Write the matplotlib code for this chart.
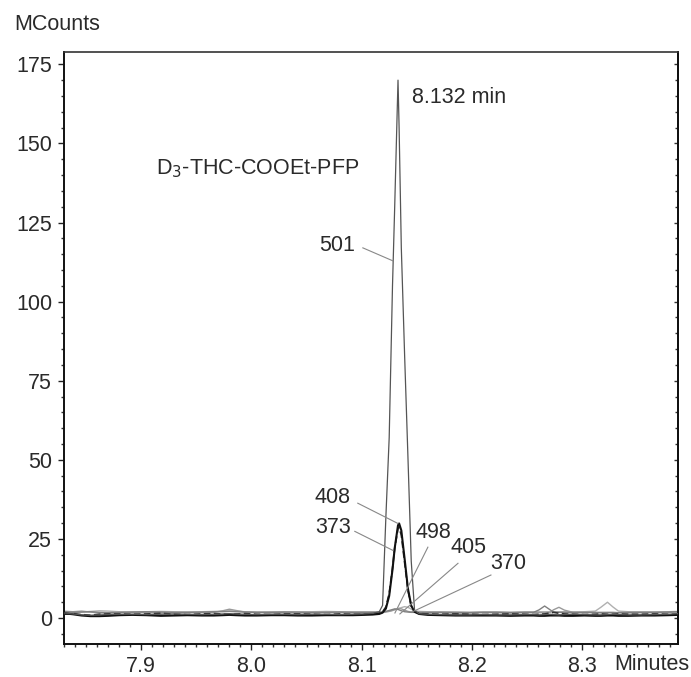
import matplotlib
matplotlib.use("Agg")
import matplotlib.pyplot as plt
from matplotlib.ticker import MultipleLocator, NullFormatter

plt.rcParams['font.family'] = ['Liberation Sans', 'DejaVu Sans']

# retention time grid (minutes)
times = [7.830, 7.838, 7.846, 7.854, 7.862, 7.870, 7.880, 7.892, 7.905, 7.918,
         7.930, 7.942, 7.955, 7.966, 7.974, 7.980, 7.986, 7.994, 8.005, 8.018,
         8.030, 8.042, 8.055, 8.068, 8.080, 8.092, 8.102,
         8.110, 8.116, 8.119, 8.122, 8.125, 8.128, 8.130, 8.133, 8.134, 8.136,
         8.139, 8.142, 8.145, 8.148, 8.152,
         8.160, 8.172, 8.185, 8.198, 8.210, 8.222, 8.235, 8.248, 8.256, 8.261,
         8.266, 8.271, 8.274, 8.279, 8.284, 8.292, 8.302, 8.312, 8.317, 8.323,
         8.328, 8.333, 8.342, 8.354, 8.366, 8.378, 8.387]

# ion traces (MCounts)
ion_501 = [1.6, 1.3, 1.0, 0.9, 1.0, 1.1, 1.2, 1.2, 1.1, 1.2, 1.3, 1.2, 1.1, 1.2, 1.3, 1.4, 1.3, 1.2, 1.1, 1.2, 1.2, 1.1, 1.2, 1.2, 1.1, 1.2, 1.3,
           1.5, 2.0, 4.0, 32.0, 57.0, 105.0, 130.0, 170.0, 155.0, 117.0, 83.0, 51.0, 18.0, 2.5, 1.4,
           1.2, 1.1, 1.0, 1.0, 1.1, 1.0, 1.0, 1.1, 1.1, 1.0, 1.1, 1.2, 1.1, 1.0, 1.1, 1.2, 1.1, 1.0, 1.0, 1.1, 1.2, 1.1, 1.0, 1.0, 1.1, 1.2, 1.4]
ion_408 = [1.5, 1.2, 0.8, 0.6, 0.6, 0.7, 0.9, 1.0, 0.9, 0.7, 0.8, 0.9, 0.8, 0.8, 0.9, 1.0, 0.9, 0.8, 0.8, 0.9, 0.9, 0.8, 0.8, 0.9, 0.9, 0.9, 1.0,
           1.1, 1.3, 1.7, 3.0, 7.0, 15.3, 22.1, 29.3, 29.9, 27.7, 18.7, 9.3, 3.9, 2.0, 1.3,
           1.0, 0.9, 0.8, 0.8, 0.8, 0.8, 0.7, 0.8, 0.8, 0.7, 0.7, 0.8, 0.8, 0.8, 0.7, 0.7, 0.8, 0.7, 0.7, 0.8, 0.8, 0.7, 0.7, 0.8, 0.8, 0.9, 1.0]
ion_373 = [1.2, 1.4, 1.1, 0.9, 1.2, 1.3, 1.3, 1.2, 1.3, 1.5, 1.2, 1.1, 1.3, 1.4, 1.3, 1.2, 1.3, 1.4, 1.2, 1.1, 1.3, 1.3, 1.2, 1.1, 1.3, 1.2, 1.2,
           1.3, 1.5, 2.0, 3.5, 7.8, 15.8, 22.0, 28.3, 28.6, 26.2, 17.5, 8.8, 3.8, 2.0, 1.4,
           1.3, 1.2, 1.3, 1.2, 1.1, 1.2, 1.3, 1.2, 1.1, 1.2, 1.3, 1.6, 1.8, 1.5, 1.3, 1.2, 1.1, 1.2, 1.3, 1.2, 1.2, 1.3, 1.2, 1.2, 1.3, 1.2, 1.2]
ion_498 = [2.0, 1.8, 1.9, 2.0, 1.8, 1.7, 1.8, 1.9, 2.0, 1.9, 1.8, 1.8, 1.9, 2.0, 2.0, 2.1, 2.0, 1.9, 1.8, 1.8, 1.9, 1.9, 1.8, 1.8, 1.9, 1.8, 1.8,
           1.8, 1.8, 1.9, 2.1, 2.4, 2.7, 2.9, 2.7, 2.6, 2.3, 2.0, 1.9, 1.8, 1.8, 1.8,
           1.8, 1.8, 1.7, 1.7, 1.8, 1.8, 1.7, 1.8, 1.8, 2.6, 3.8, 2.6, 1.9, 1.8, 1.8, 1.7, 1.8, 1.8, 1.8, 1.8, 1.8, 1.7, 1.8, 1.8, 1.8, 1.9, 2.0]
ion_405 = [1.7, 2.0, 2.2, 1.9, 1.6, 1.6, 1.7, 1.8, 1.7, 1.6, 1.7, 1.8, 1.7, 1.8, 2.3, 2.8, 2.4, 1.9, 1.8, 1.7, 1.7, 1.6, 1.7, 1.8, 1.7, 1.7, 1.7,
           1.7, 1.7, 1.8, 1.9, 2.1, 2.4, 2.7, 3.0, 3.1, 2.9, 2.5, 2.1, 1.9, 1.8, 1.7,
           1.7, 1.7, 1.6, 1.6, 1.7, 1.7, 1.6, 1.7, 1.7, 1.7, 1.7, 1.8, 2.6, 3.4, 2.5, 1.8, 1.7, 1.7, 1.6, 1.7, 1.7, 1.7, 1.6, 1.7, 1.7, 1.8, 1.9]
ion_370 = [2.2, 2.0, 1.9, 2.1, 2.3, 2.2, 2.0, 1.9, 2.0, 2.1, 2.0, 1.9, 2.0, 2.1, 2.2, 2.3, 2.2, 2.0, 1.9, 2.0, 2.0, 1.9, 2.0, 2.1, 2.0, 2.0, 2.0,
           2.0, 2.0, 2.0, 2.1, 2.2, 2.4, 2.6, 2.9, 3.0, 3.3, 3.6, 3.4, 2.8, 2.3, 2.1,
           2.0, 2.0, 2.0, 1.9, 2.0, 2.0, 1.9, 2.0, 2.0, 2.0, 2.0, 2.0, 2.0, 2.0, 2.0, 2.0, 2.0, 2.2, 3.4, 5.0, 3.5, 2.2, 2.0, 2.0, 2.0, 2.0, 2.1]

x_ticks = [7.9, 8.0, 8.1, 8.2, 8.3]
y_ticks = [0, 25, 50, 75, 100, 125, 150, 175]

# ion labels: (text, label position, leader start, leader end) in data coords
ion_labels = [
    ("501", (8.0775, 117.9), (8.1011, 117.0), (8.1283, 112.9)),
    ("408", (8.0738, 38.1), (8.0965, 36.3), (8.1329, 29.9)),
    ("373", (8.0738, 28.7), (8.0938, 27.4), (8.1283, 21.4)),
    ("498", (8.1647, 27.1), (8.1601, 22.4), (8.1302, 1.6)),
    ("405", (8.1965, 22.4), (8.1874, 17.3), (8.1347, 1.3)),
    ("370", (8.2328, 17.3), (8.2173, 13.6), (8.1456, 1.9)),
]

FS = 15.5
TXT = '#2a2a2a'

fig = plt.figure(figsize=(6.91, 6.77), dpi=100)
ax = fig.add_axes([64 / 691, 33 / 677, 614 / 691, 592 / 677])

ax.plot(times, ion_370, color='#b0b0b0', lw=1.0, zorder=2)
ax.plot(times, ion_405, color='#999999', lw=1.0, zorder=2)
ax.plot(times, ion_498, color='#808080', lw=1.0, zorder=2)
ax.plot(times, ion_373, color='#303030', lw=1.2, ls=(0, (4, 2)), zorder=3)
ax.plot(times, ion_408, color='#111111', lw=1.5, zorder=4)
ax.plot(times, ion_501, color='#555555', lw=0.9, zorder=5)

ax.set_xlim(7.830, 8.387)
ax.set_ylim(-8.2, 178.9)

ax.set_xticks(x_ticks)
ax.set_xticklabels([f"{v:.1f}" for v in x_ticks])
ax.set_yticks(y_ticks)
ax.xaxis.set_minor_locator(MultipleLocator(0.01))
ax.yaxis.set_minor_locator(MultipleLocator(5))
ax.tick_params(axis='both', which='major', direction='out', length=4, width=1,
               labelsize=FS, labelcolor=TXT, color='#222222')
ax.tick_params(axis='x', which='major', pad=5)
ax.tick_params(axis='y', which='major', pad=4.5)
ax.tick_params(axis='both', which='minor', direction='out', length=2.2, width=1, color='#333333')

# inward ticks on the right spine
sec = ax.secondary_yaxis('right')
sec.set_yticks(y_ticks)
sec.yaxis.set_minor_locator(MultipleLocator(5))
sec.yaxis.set_major_formatter(NullFormatter())
sec.tick_params(axis='y', which='major', direction='in', length=3, width=1, color='#333333')
sec.tick_params(axis='y', which='minor', direction='in', length=2, width=1, color='#333333')
sec.spines['right'].set_linewidth(1.4)
sec.spines['right'].set_color('#111111')

for side in ['left', 'bottom', 'right']:
    ax.spines[side].set_linewidth(1.4)
    ax.spines[side].set_color('#111111')
ax.spines['top'].set_linewidth(1.2)
ax.spines['top'].set_color('#333333')

for text, (tx, ty), (sx, sy), (ex, ey) in ion_labels:
    ax.plot([sx, ex], [sy, ey], color='#888888', lw=0.8, zorder=6)
    ax.text(tx, ty, text, ha='center', va='center', fontsize=FS, color=TXT)

ax.text(8.1456, 164.6, "8.132 min", ha='left', va='center', fontsize=FS, color=TXT)
ax.text(7.9131, 141.9, "D$_3$-THC-COOEt-PFP", ha='left', va='center', fontsize=FS,
        color=TXT, math_fontfamily='custom')

fig.text(14 / 691, 1 - 25 / 677, "MCounts", ha='left', va='center', fontsize=FS, color=TXT)
fig.text(689 / 691, 1 - 665 / 677, "Minutes", ha='right', va='center', fontsize=FS, color=TXT)

fig.savefig("out.png", dpi=100)
